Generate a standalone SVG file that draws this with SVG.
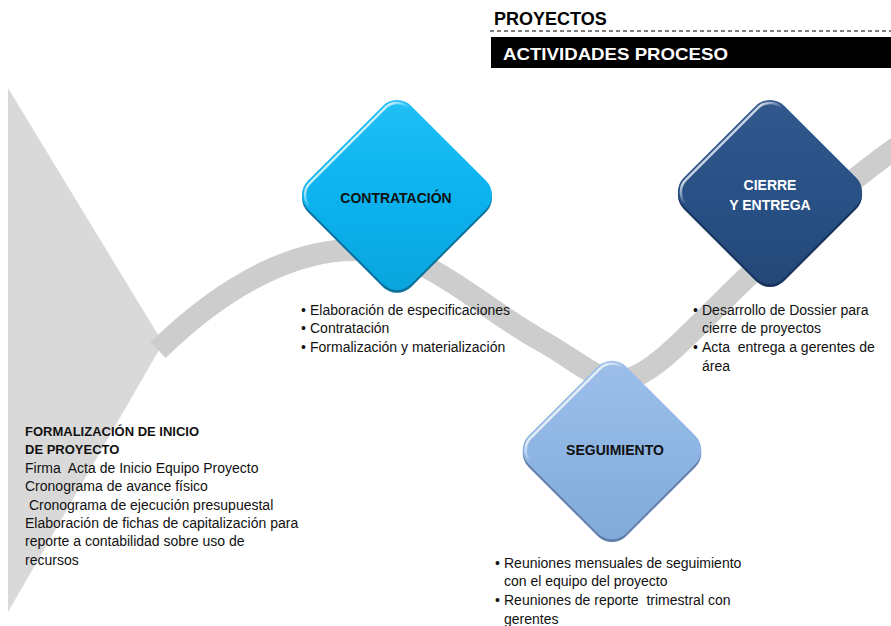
<svg xmlns="http://www.w3.org/2000/svg" width="891" height="626" viewBox="0 0 891 626">
<style>
  .t { font-family: "Liberation Sans", Arial, sans-serif; font-size: 14px; fill: #111; }
  .b { font-family: "Liberation Sans", Arial, sans-serif; font-weight: bold; }
  .lbl { font-family: "Liberation Sans", Arial, sans-serif; font-weight: bold; font-size: 14px; text-anchor: middle; }
</style>
<defs>
  <linearGradient id="hl" x1="0" y1="0" x2="1" y2="0">
    <stop offset="0" stop-color="#ffffff" stop-opacity="0.75"/>
    <stop offset="0.12" stop-color="#ffffff" stop-opacity="0"/>
  </linearGradient>
  <linearGradient id="gC" x1="0" y1="0" x2="1" y2="1">
    <stop offset="0" stop-color="#22c0f6"/>
    <stop offset="0.5" stop-color="#0bb3ef"/>
    <stop offset="1" stop-color="#0aa4dc"/>
  </linearGradient>
  <linearGradient id="gE" x1="0" y1="0" x2="1" y2="1">
    <stop offset="0" stop-color="#33598f"/>
    <stop offset="0.5" stop-color="#295186"/>
    <stop offset="1" stop-color="#234877"/>
  </linearGradient>
  <linearGradient id="gS" x1="0" y1="0" x2="1" y2="1">
    <stop offset="0" stop-color="#9ec0ea"/>
    <stop offset="0.5" stop-color="#8eb5e3"/>
    <stop offset="1" stop-color="#80a8d8"/>
  </linearGradient>
</defs>

<rect width="891" height="626" fill="#ffffff"/>

<g id="header">
  <text class="b" x="494" y="25" font-size="18" fill="#000">PROYECTOS</text>
  <line x1="490" y1="31" x2="891" y2="31" stroke="#000" stroke-width="1" stroke-dasharray="4,3"/>
  <rect x="491" y="37" width="400" height="31" fill="#000"/>
  <text class="b" x="503" y="60" font-size="17" fill="#fff" textLength="225" lengthAdjust="spacingAndGlyphs">ACTIVIDADES PROCESO</text>
</g>

<g id="inicio">
  <polygon points="8,88 163,343 8,612" fill="#d9d9d9"/>
</g>

<g id="connectors">
  <path d="M 158 350 C 230 280, 300 248, 360 250 C 430 252, 470 300, 540 340 C 580 362, 600 385, 625 380 C 660 372, 700 320, 760 265 C 800 225, 850 180, 900 145" fill="none" stroke="#cdcdcd" stroke-width="22"/>
</g>

<g id="inicio-text">
  <text class="b" x="25" y="436" font-size="13" fill="#111">FORMALIZACIÓN DE INICIO</text>
  <text class="b" x="25" y="454" font-size="13" fill="#111">DE PROYECTO</text>
  <text class="t" x="25" y="473" xml:space="preserve">Firma  Acta de Inicio Equipo Proyecto</text>
  <text class="t" x="25" y="491">Cronograma de avance físico</text>
  <text class="t" x="25" y="510" xml:space="preserve"> Cronograma de ejecución presupuestal</text>
  <text class="t" x="25" y="528">Elaboración de fichas de capitalización para</text>
  <text class="t" x="25" y="546">reporte a contabilidad sobre uso de</text>
  <text class="t" x="25" y="565">recursos</text>
</g>

<g id="contratacion">
  <g transform="translate(397,195) rotate(45)">
    <rect x="-71" y="-71" width="146" height="146" rx="20" fill="#0a6f99"/>
    <rect x="-73" y="-73" width="146" height="146" rx="20" fill="url(#gC)"/>
    <rect x="-70" y="-70" width="140" height="140" rx="17" fill="none" stroke="url(#hl)" stroke-width="2.5"/>
  </g>
  <text class="lbl" x="396" y="203" fill="#111">CONTRATACIÓN</text>
  <text class="t" x="301" y="315">•</text><text class="t" x="310" y="315">Elaboración de especificaciones</text>
  <text class="t" x="301" y="333">•</text><text class="t" x="310" y="333">Contratación</text>
  <text class="t" x="301" y="352">•</text><text class="t" x="310" y="352">Formalización y materialización</text>
</g>

<g id="seguimiento">
  <g transform="translate(612,450) rotate(45)">
    <rect x="-67" y="-67" width="138" height="138" rx="20" fill="#5d7ea9"/>
    <rect x="-69" y="-69" width="138" height="138" rx="20" fill="url(#gS)"/>
    <rect x="-66" y="-66" width="132" height="132" rx="17" fill="none" stroke="url(#hl)" stroke-width="2.5"/>
  </g>
  <text class="lbl" x="615" y="455" fill="#111">SEGUIMIENTO</text>
  <text class="t" x="495" y="568">•</text><text class="t" x="504" y="568">Reuniones mensuales de seguimiento</text>
  <text class="t" x="504" y="586">con el equipo del proyecto</text>
  <text class="t" x="495" y="605">•</text><text class="t" x="504" y="605" xml:space="preserve">Reuniones de reporte  trimestral con</text>
  <text class="t" x="504" y="624">gerentes</text>
</g>

<g id="cierre">
  <g transform="translate(770,192) rotate(45)">
    <rect x="-69" y="-69" width="142" height="142" rx="20" fill="#16315a"/>
    <rect x="-71" y="-71" width="142" height="142" rx="20" fill="url(#gE)"/>
    <rect x="-68" y="-68" width="136" height="136" rx="17" fill="none" stroke="url(#hl)" stroke-width="2.5"/>
  </g>
  <text class="lbl" x="770" y="190" fill="#fff">CIERRE</text>
  <text class="lbl" x="770" y="210" fill="#fff">Y ENTREGA</text>
  <text class="t" x="693" y="315">•</text><text class="t" x="702" y="315">Desarrollo de Dossier para</text>
  <text class="t" x="702" y="333">cierre de proyectos</text>
  <text class="t" x="693" y="352">•</text><text class="t" x="702" y="352" xml:space="preserve">Acta  entrega a gerentes de</text>
  <text class="t" x="702" y="371">área</text>
</g>
</svg>
